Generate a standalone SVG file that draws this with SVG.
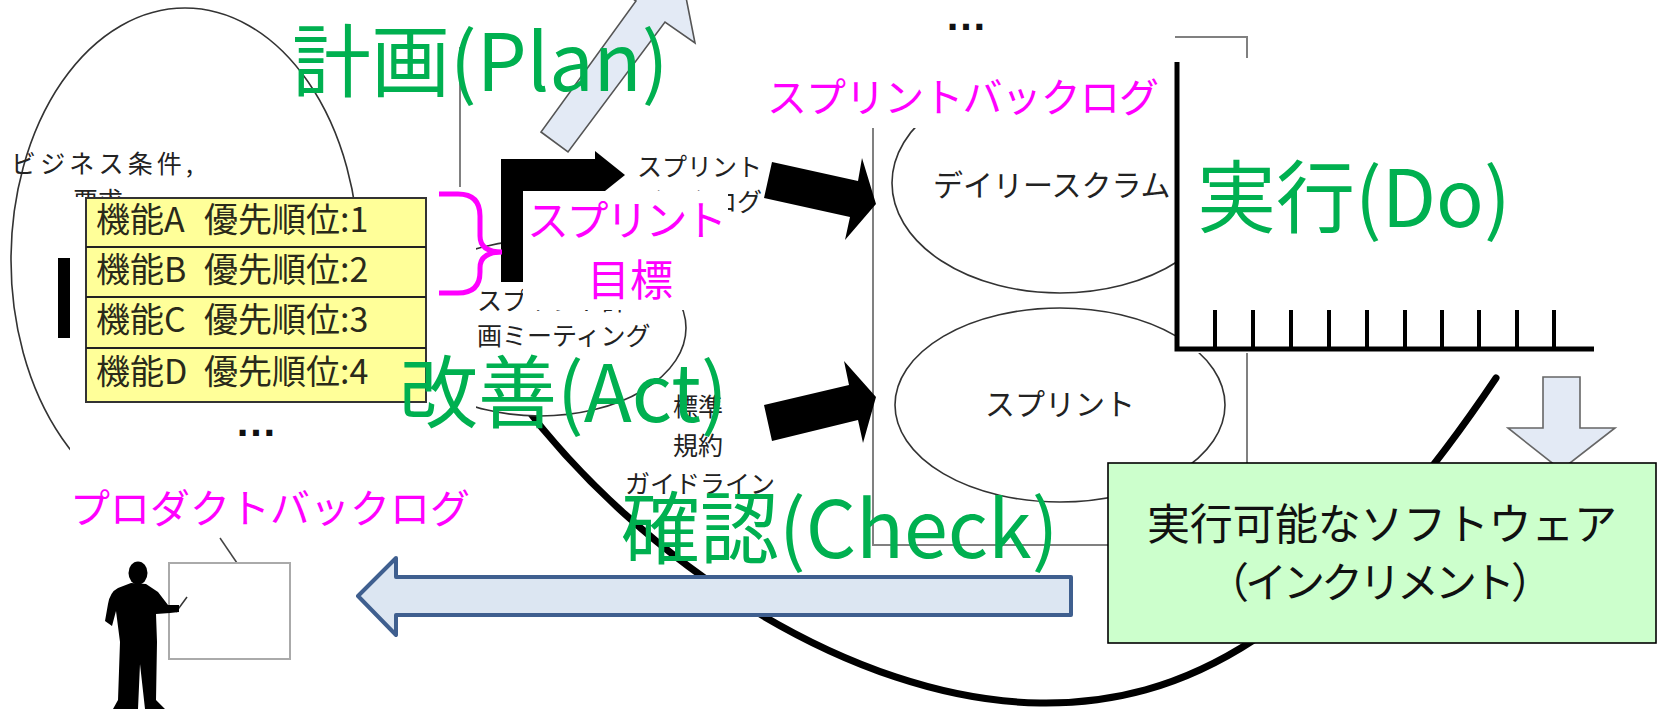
<svg xmlns="http://www.w3.org/2000/svg" width="1658" height="709" viewBox="0 0 1658 709">
  <defs>
    <style>
      .jp { font-family: "Noto Sans CJK JP", "Noto Sans CJK SC", sans-serif; }
      .lbl { font-size: 25px; fill: #222; }
      .pdca { font-size: 79px; fill: #00B050; }
      .mag { fill: #FF00FF; }
      .thin { fill: none; stroke: #808080; stroke-width: 2; }
      .oval { fill: none; stroke: #333; stroke-width: 1.6; }
      .mask { fill: #FFFFFF; stroke: none; }
      .dots { font-family: "Liberation Sans", sans-serif; font-weight: bold; fill: #111; }
    </style>
    <clipPath id="planClip">
      <rect x="476" y="0" width="400" height="709"/>
    </clipPath>
  </defs>

  <rect width="1658" height="709" fill="#FFFFFF"/>

  <!-- business requirements area -->
  <g id="business">
    <ellipse class="oval" cx="185" cy="260" rx="174" ry="252"/>
    <line x1="460" y1="47" x2="460" y2="187" stroke="#808080" stroke-width="2"/>
    <rect x="58" y="258" width="12" height="80" fill="#000"/>
    <text class="jp lbl" x="11" y="173" font-size="26" textLength="182">ビジネス条件,</text>
    <text class="jp lbl" x="73" y="210" font-size="26">要求</text>
    <rect class="mask" x="70" y="197" width="406" height="512"/>
  </g>

  <!-- PDCA loop line -->
  <g id="connectors">
    <path d="M520,400 C640,560 850,700 1040,703 C1180,705 1320,640 1496,378" fill="none" stroke="#000" stroke-width="7" stroke-linecap="round"/>
  </g>

  <!-- sprint planning meeting -->
  <g id="planning">
    <ellipse cx="540" cy="328" rx="146" ry="88" fill="#FFFFFF" stroke="#333" stroke-width="1.6" clip-path="url(#planClip)"/>
    <text class="jp lbl" x="477" y="310" font-size="24">スプリント計</text>
    <text class="jp lbl" x="477" y="345" font-size="24">画ミーティング</text>
  </g>

  <!-- light-blue arrow out of the planning area -->
  <g id="plan-arrow">
    <polygon points="541,132 568,152 665,22 695,43 680,-33 604,-22 636,1" fill="#E3EAF5" stroke="#555" stroke-width="1.6" stroke-linejoin="miter"/>
  </g>

  <!-- black bent arrow -->
  <g id="bent-arrow">
    <path d="M501,282 V159 H595 V151 L625,175 L595,199 V191 H523 V282 Z" fill="#000"/>
  </g>

  <!-- sprint backlog (black label) -->
  <g id="sprint-backlog-label">
    <text class="jp lbl" x="637" y="176">スプリント</text>
    <text class="jp lbl" x="637" y="211">バックログ</text>
  </g>

  <!-- sprint goal -->
  <g id="sprint-goal">
    <rect class="mask" x="523" y="191" width="205" height="119"/>
    <text class="jp mag" x="527" y="236" font-size="42" textLength="200">スプリント</text>
    <text class="jp mag" x="630" y="296" font-size="43" text-anchor="middle">目標</text>
  </g>

  <!-- product backlog table -->
  <g id="backlog-table">
    <rect x="86" y="198" width="340" height="204" fill="#FFFF99" stroke="#333" stroke-width="2"/>
    <line x1="86" y1="247" x2="426" y2="247" stroke="#222" stroke-width="2"/>
    <line x1="86" y1="297" x2="426" y2="297" stroke="#222" stroke-width="2"/>
    <line x1="86" y1="348" x2="426" y2="348" stroke="#222" stroke-width="2"/>
    <text class="jp" font-size="34" fill="#2a2a1a" y="232"><tspan x="96">機能A </tspan><tspan x="204">優先順位:1</tspan></text>
    <text class="jp" font-size="34" fill="#2a2a1a" y="282"><tspan x="96">機能B </tspan><tspan x="204">優先順位:2</tspan></text>
    <text class="jp" font-size="34" fill="#2a2a1a" y="332"><tspan x="96">機能C </tspan><tspan x="204">優先順位:3</tspan></text>
    <text class="jp" font-size="34" fill="#2a2a1a" y="384"><tspan x="96">機能D </tspan><tspan x="204">優先順位:4</tspan></text>
    <text class="dots" x="256" y="436" font-size="42" text-anchor="middle">…</text>
  </g>

  <!-- brace for the sprint goal -->
  <g id="brace">
    <path d="M439,194 H458 Q480,194 480,216 V236 Q480,252 502,252 Q480,252 480,268 V272 Q480,293 458,293 H439" fill="none" stroke="#FF00FF" stroke-width="5"/>
  </g>

  <!-- sprint area -->
  <g id="sprint-area">
    <rect class="thin" x="873" y="37" width="374" height="508"/>
    <ellipse class="oval" cx="1060" cy="183" rx="168" ry="110"/>
    <text class="jp" x="933" y="196" font-size="30" fill="#222">デイリースクラム</text>
    <ellipse class="oval" cx="1060" cy="405" rx="165" ry="97"/>
    <text class="jp" x="1060" y="415" font-size="30" fill="#222" text-anchor="middle">スプリント</text>
    <text class="dots" x="966" y="30" font-size="42" text-anchor="middle">…</text>
  </g>

  <!-- sprint backlog (magenta label) -->
  <g id="sprint-backlog">
    <rect class="mask" x="760" y="33" width="415" height="95"/>
    <text class="jp mag" x="767" y="112" font-size="40" textLength="392">スプリントバックログ</text>
  </g>

  <!-- execution chart -->
  <g id="chart">
    <rect class="mask" x="1175" y="58" width="483" height="295"/>
    <path d="M1177,62 V349 H1594" fill="none" stroke="#000" stroke-width="5"/>
    <g stroke="#000" stroke-width="4">
      <line x1="1215" y1="310" x2="1215" y2="349"/>
      <line x1="1253" y1="310" x2="1253" y2="349"/>
      <line x1="1291" y1="310" x2="1291" y2="349"/>
      <line x1="1329" y1="310" x2="1329" y2="349"/>
      <line x1="1367" y1="310" x2="1367" y2="349"/>
      <line x1="1405" y1="310" x2="1405" y2="349"/>
      <line x1="1442" y1="310" x2="1442" y2="349"/>
      <line x1="1479" y1="310" x2="1479" y2="349"/>
      <line x1="1517" y1="310" x2="1517" y2="349"/>
      <line x1="1554" y1="310" x2="1554" y2="349"/>
    </g>
  </g>

  <!-- standards / rules / guidelines -->
  <g id="standards">
    <text class="jp lbl" x="698" y="416" text-anchor="middle">標準</text>
    <text class="jp lbl" x="698" y="455" text-anchor="middle">規約</text>
    <text class="jp lbl" x="700" y="493" text-anchor="middle">ガイドライン</text>
  </g>

  <!-- black arrows into the sprint -->
  <g id="sprint-arrows" fill="#000">
    <polygon points="772,162 858,181 862,158 876,204 845,240 850,217 764,198"/>
    <polygon points="764,405 849,385 844,361 876,397 863,443 858,420 772,441"/>
  </g>

  <!-- arrow down to the increment -->
  <g id="increment-arrow">
    <polygon points="1543,377 1580,377 1580,428 1615,428 1561,470 1508,428 1543,428" fill="#E3EAF5" stroke="#666" stroke-width="1.6"/>
  </g>

  <!-- working software (increment) -->
  <g id="increment">
    <rect x="1108" y="463" width="548" height="180" fill="#CCFFCC" stroke="#000" stroke-width="1.6"/>
    <text class="jp" x="1382" y="540" font-size="43" fill="#111" text-anchor="middle" textLength="470">実行可能なソフトウェア</text>
    <text class="jp" x="1380" y="598" font-size="42" fill="#111" text-anchor="middle" textLength="346">（インクリメント）</text>
  </g>

  <!-- review arrow back to the product backlog -->
  <g id="review-arrow">
    <polygon points="1071,577 396,577 396,558 358,596 396,635 396,615 1071,615" fill="#DCE6F2" stroke="#3F5F8F" stroke-width="4" stroke-linejoin="round"/>
  </g>

  <!-- product owner and product backlog -->
  <g id="product-backlog">
    <text class="jp mag" x="70" y="523" font-size="40">プロダクトバックログ</text>
    <line x1="220" y1="538" x2="237" y2="563" stroke="#444" stroke-width="1.5"/>
    <rect x="169" y="563" width="121" height="96" fill="#FFFFFF" stroke="#AAAAAA" stroke-width="2"/>
    <line x1="176" y1="612" x2="187" y2="597" stroke="#333" stroke-width="1.5"/>
    <ellipse cx="138" cy="573" rx="9.5" ry="11.5" fill="#000"/>
    <path d="M131,583 L118,588 Q110,592 108,604 L105,621 L112,626 L116,611 L120,642 L118,700 L113,709 L138,709 L140,664 L145,709 L165,709 L156,700 L157,642 L156,614 L170,613 L179,612 L179,605 L168,605 L158,592 L146,584 Z" fill="#000"/>
  </g>

  <!-- PDCA headings -->
  <g id="pdca-labels">
    <text class="jp pdca" x="292" y="91">計画(Plan)</text>
    <text class="jp pdca" x="1197" y="227">実行(Do)</text>
    <text class="jp pdca" x="399" y="422">改善(Act)</text>
    <text class="jp pdca" x="621" y="558">確認(Check)</text>
  </g>
</svg>
